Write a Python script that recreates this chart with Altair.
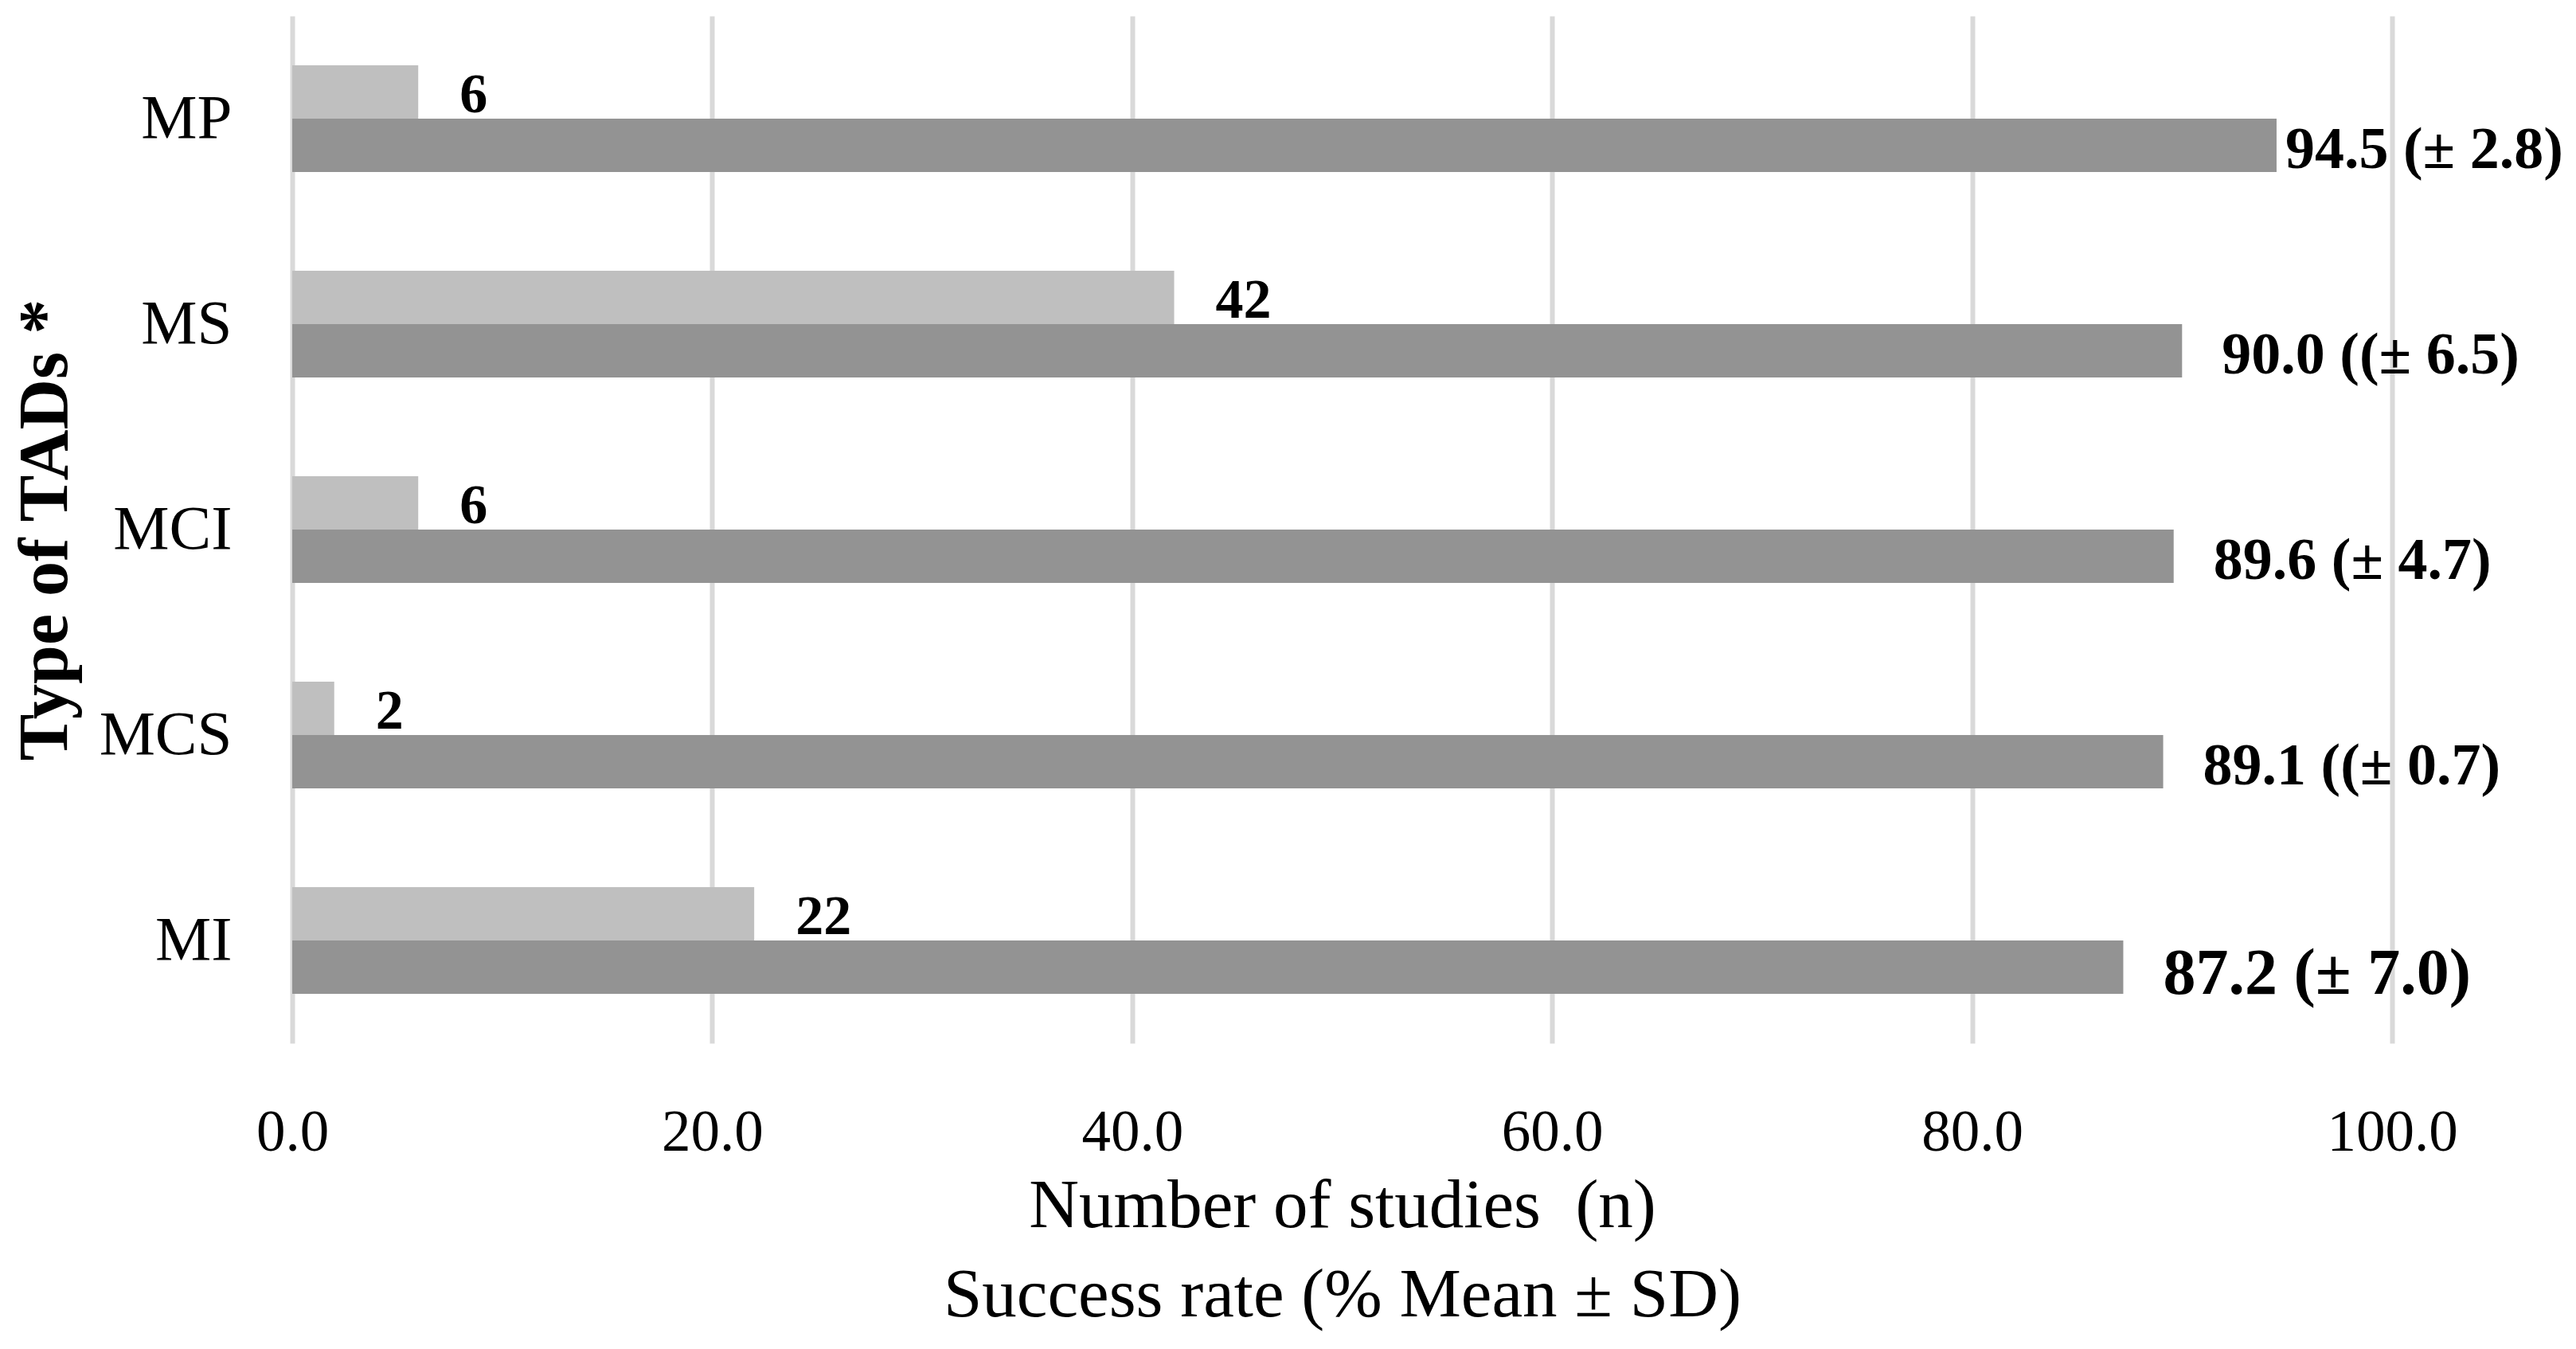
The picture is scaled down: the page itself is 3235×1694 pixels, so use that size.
import altair as alt
import pandas as pd

categories = ["MP", "MS", "MCI", "MCS", "MI"]
n_studies = [6, 42, 6, 2, 22]
success_mean = [94.5, 90.0, 89.6, 89.1, 87.2]
success_labels = ["94.5 (± 2.8)", "90.0 ((± 6.5)", "89.6 (± 4.7)", "89.1 ((± 0.7)", "87.2 (± 7.0)"]
x_ticks = [0, 20, 40, 60, 80, 100]
series = ["Number of studies (n)", "Success rate (% Mean ± SD)"]

rows = []
for c, n, s, lab in zip(categories, n_studies, success_mean, success_labels):
    rows.append({"cat": c, "series": series[0], "value": n, "label": str(n)})
    rows.append({"cat": c, "series": series[1], "value": s, "label": lab})
df = pd.DataFrame(rows)

FONT = "Liberation Serif"

y_enc = alt.Y(
    "cat:N",
    sort=categories,
    scale=alt.Scale(paddingInner=0.48, paddingOuter=0.24),
    axis=alt.Axis(
        title="Type of TADs *",
        titleFont=FONT,
        titleFontSize=88,
        titleFontWeight="bold",
        titleColor="#000000",
        titleBaseline="alphabetic",
        titleX=-284,
        titleY=645,
        labelFont=FONT,
        labelFontSize=79,
        labelColor="#000000",
        labelPadding=76,
        ticks=False,
        domain=False,
        grid=False,
    ),
)
yoff_enc = alt.YOffset("series:N", sort=series, scale=alt.Scale(paddingInner=0, paddingOuter=0))
x_enc = alt.X(
    "value:Q",
    scale=alt.Scale(domain=[0, 100], nice=False),
    axis=alt.Axis(
        values=x_ticks,
        format=".1f",
        title=["Number of studies\u00a0 (n)", "Success rate (% Mean ± SD)"],
        titleFont=FONT,
        titleFontSize=87,
        titleFontWeight="normal",
        titleColor="#000000",
        titleBaseline="alphabetic",
        titleLineHeight=112,
        titleY=230,
        labelFont=FONT,
        labelFontSize=73,
        labelColor="#000000",
        labelPadding=76,
        labelFlush=False,
        ticks=False,
        domain=False,
        grid=True,
        gridColor="#D9D9D9",
        gridWidth=6,
    ),
)

base = alt.Chart(df)

bars = base.mark_bar().encode(
    x=x_enc,
    y=y_enc,
    yOffset=yoff_enc,
    color=alt.Color("series:N", sort=series,
                    scale=alt.Scale(domain=series, range=["#BFBFBF", "#939393"]),
                    legend=None),
)

count_text = base.transform_filter(alt.datum.series == series[0]).mark_text(
    align="left", baseline="middle", dx=52, dy=5, font=FONT, fontSize=70,
    fontWeight="bold", color="#000000"
).encode(x="value:Q", y=alt.Y("cat:N", sort=categories), yOffset=yoff_enc, text="label:N")

succ_main = base.transform_filter(
    (alt.datum.series == series[1]) & (alt.datum.cat != "MP") & (alt.datum.cat != "MI")
).mark_text(
    align="left", baseline="middle", dx=50, dy=6, font=FONT, fontSize=74,
    fontWeight="bold", color="#000000"
).encode(x="value:Q", y=alt.Y("cat:N", sort=categories), yOffset=yoff_enc, text="label:N")

succ_mp = base.transform_filter(
    (alt.datum.series == series[1]) & (alt.datum.cat == "MP")
).mark_text(
    align="left", baseline="middle", dx=11, dy=6, font=FONT, fontSize=74,
    fontWeight="bold", color="#000000"
).encode(x="value:Q", y=alt.Y("cat:N", sort=categories), yOffset=yoff_enc, text="label:N")

succ_mi = base.transform_filter(
    (alt.datum.series == series[1]) & (alt.datum.cat == "MI")
).mark_text(
    align="left", baseline="middle", dx=50, dy=8, font=FONT, fontSize=82,
    fontWeight="bold", color="#000000"
).encode(x="value:Q", y=alt.Y("cat:N", sort=categories), yOffset=yoff_enc, text="label:N")

chart = alt.layer(bars, count_text, succ_main, succ_mp, succ_mi).properties(
    width=2637,
    height=1290,
    autosize=alt.AutoSizeParams(type="none"),
    padding={"left": 359, "top": 12, "right": 215, "bottom": 370},
).configure_view(stroke=None)

chart.save("out.html", embed_options={"renderer": "svg", "actions": False})
